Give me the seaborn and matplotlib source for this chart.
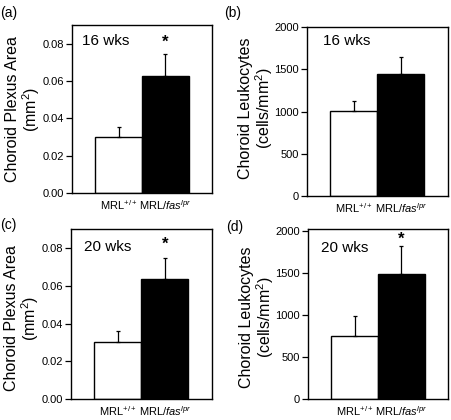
import matplotlib
matplotlib.use("Agg")
import matplotlib.pyplot as plt
import seaborn as sns
import pandas as pd
from matplotlib.ticker import FormatStrFormatter

# ---- data ----
groups = ["MRL+/+", "MRL/fas-lpr"]
group_labels = ["MRL$^{+/+}$", "MRL/$\\mathit{fas}^{\\mathit{lpr}}$"]

area_16wk = [0.030, 0.063]
area_16wk_err = [0.0055, 0.0118]
leuk_16wk = [1005, 1443]
leuk_16wk_err = [118, 200]
area_20wk = [0.030, 0.0635]
area_20wk_err = [0.0058, 0.0112]
leuk_20wk = [750, 1480]
leuk_20wk_err = [238, 333]

sig_a = [False, True]
sig_b = [False, False]
sig_c = [False, True]
sig_d = [False, True]

panel_letters = ["(a)", "(b)", "(c)", "(d)"]
age_labels = ["16 wks", "16 wks", "20 wks", "20 wks"]
area_label = "Choroid Plexus Area\n(mm$^2$)"
leuk_label = "Choroid Leukocytes\n(cells/mm$^2$)"
area_ticks = [0.00, 0.02, 0.04, 0.06, 0.08]
leuk_ticks = [0, 500, 1000, 1500, 2000]

# ---- style ----
sns.set_theme(style="ticks")
plt.rcParams["font.family"] = ["Liberation Sans", "DejaVu Sans"]
plt.rcParams["mathtext.fontset"] = "custom"
plt.rcParams["mathtext.rm"] = "Liberation Sans"
plt.rcParams["mathtext.it"] = "Liberation Sans:italic"
plt.rcParams["mathtext.bf"] = "Liberation Sans:bold"

W, H = 452, 420
fig = plt.figure(figsize=(W / 100, H / 100), dpi=100)

def px_axes(l, r, t, b):
    return [l / W, 1 - b / H, (r - l) / W, (b - t) / H]

panels = [
    dict(pos=px_axes(72, 212, 25, 193), vals=area_16wk, err=area_16wk_err, sig=sig_a,
         ylim=(0, 0.0902), ticks=area_ticks, fmt="%.2f", ylabel=area_label,
         lab_x=-0.212, lab_y=0.50, txt=(0.07, 0.905), star_off=8, letter=(0, 13)),
    dict(pos=px_axes(307, 448, 27, 196), vals=leuk_16wk, err=leuk_16wk_err, sig=sig_b,
         ylim=(0, 2000), ticks=leuk_ticks, fmt="%d", ylabel=leuk_label,
         lab_x=-0.225, lab_y=0.518, txt=(0.113, 0.917), star_off=8, letter=(224, 13)),
    dict(pos=px_axes(71, 212, 229, 399), vals=area_20wk, err=area_20wk_err, sig=sig_c,
         ylim=(0, 0.0901), ticks=area_ticks, fmt="%.2f", ylabel=area_label,
         lab_x=-0.212, lab_y=0.475, txt=(0.092, 0.895), star_off=10, letter=(0, 225)),
    dict(pos=px_axes(308, 448, 229, 399), vals=leuk_20wk, err=leuk_20wk_err, sig=sig_d,
         ylim=(0, 2020), ticks=leuk_ticks, fmt="%d", ylabel=leuk_label,
         lab_x=-0.225, lab_y=0.48, txt=(0.093, 0.888), star_off=5, letter=(226, 227)),
]

for i, p in enumerate(panels):
    ax = fig.add_axes(p["pos"])
    df = pd.DataFrame({"group": groups, "value": p["vals"]})
    sns.barplot(data=df, x="group", y="value", hue="group",
                palette=["white", "black"], width=1.0, edgecolor="black",
                linewidth=1.0, legend=False, errorbar=None, ax=ax, zorder=2)
    ax.errorbar(x=[0, 1], y=p["vals"], yerr=[[0, 0], p["err"]], fmt="none",
                ecolor="black", elinewidth=0.9, capsize=1.5, capthick=0.9, zorder=3)
    for j, s in enumerate(p["sig"]):
        if s:
            ax.annotate("*", xy=(j, p["vals"][j] + p["err"][j]), xytext=(0, p["star_off"]),
                        textcoords="offset points", ha="center", va="center",
                        fontsize=12, fontweight="bold", color="black")
    ax.set_xlim(-1, 2)
    ax.set_ylim(*p["ylim"])
    ax.set_yticks(p["ticks"])
    ax.yaxis.set_major_formatter(FormatStrFormatter(p["fmt"]))
    ax.set_xticks([0, 1])
    ax.set_xticklabels(group_labels, fontsize=8)
    ax.tick_params(axis="x", length=0, pad=3.5, colors="black")
    ax.tick_params(axis="y", length=4, width=0.9, pad=2, labelsize=8, colors="black")
    ax.set_xlabel("")
    ax.set_ylabel(p["ylabel"], fontsize=11.5, linespacing=1.05, color="black")
    ax.yaxis.set_label_coords(p["lab_x"], p["lab_y"])
    for sp in ax.spines.values():
        sp.set_visible(True)
        sp.set_color("black")
        sp.set_linewidth(1.0)
    ax.text(p["txt"][0], p["txt"][1], age_labels[i], transform=ax.transAxes,
            ha="left", va="center", fontsize=11, color="black")
    lx, ly = p["letter"]
    fig.text(lx / W, 1 - ly / H, panel_letters[i], ha="left", va="center",
             fontsize=10, color="black")

fig.savefig("out.png", dpi=100)
